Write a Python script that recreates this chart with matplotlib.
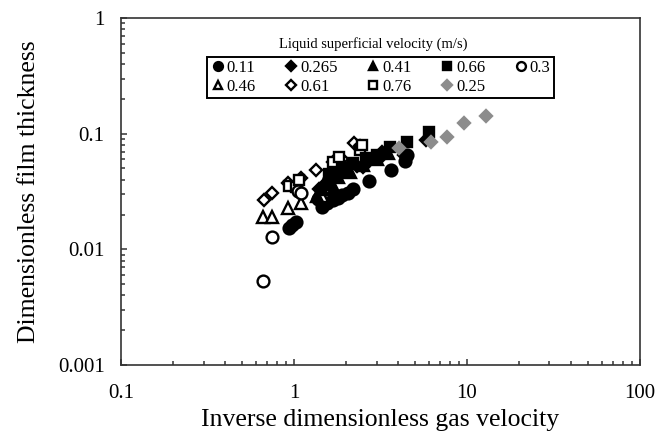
import matplotlib
matplotlib.use("Agg")
import matplotlib.pyplot as plt
from matplotlib.ticker import FuncFormatter, LogLocator

plt.rcParams["font.family"] = ["Liberation Serif", "DejaVu Serif"]

# liquid superficial velocity series (m/s): x = inverse dimensionless gas velocity,
# y = dimensionless film thickness
x_011 = [0.93, 0.97, 1.02, 1.38, 1.45, 1.55, 1.67, 1.8, 1.9, 2.05, 2.18, 2.72, 3.62, 4.4, 4.5]
y_011 = [0.0152, 0.0162, 0.0172, 0.027, 0.0234, 0.0252, 0.0267, 0.028, 0.0295, 0.031, 0.033,
         0.0393, 0.0486, 0.058, 0.066]
x_0265 = [1.4, 1.5, 1.62, 1.75, 1.9, 2.05, 2.3, 2.5, 2.7, 3.2, 3.23, 4.3, 5.8]
y_0265 = [0.033, 0.037, 0.041, 0.044, 0.047, 0.05, 0.053, 0.052, 0.058, 0.063, 0.07, 0.066, 0.088]
x_041 = [1.35, 1.45, 1.52, 1.6, 1.7, 1.8, 2.1, 2.5, 3.0, 3.5]
y_041 = [0.029, 0.033, 0.04, 0.037, 0.034, 0.042, 0.047, 0.054, 0.060, 0.068]
x_066 = [1.6, 1.75, 1.9, 2.2, 2.6, 2.8, 3.0, 3.6, 4.5, 6.0]
y_066 = [0.045, 0.046, 0.05, 0.056, 0.062, 0.06, 0.066, 0.077, 0.085, 0.104]
x_03 = [0.66, 0.74, 1.05, 1.1]
y_03 = [0.0053, 0.0127, 0.032, 0.0305]
x_046 = [0.66, 0.74, 0.92, 1.1, 1.45]
y_046 = [0.0192, 0.0192, 0.0226, 0.0251, 0.029]
x_061 = [0.67, 0.74, 0.92, 1.1, 1.34, 1.67, 1.9, 2.22, 2.4]
y_061 = [0.0267, 0.0305, 0.0373, 0.041, 0.0486, 0.0573, 0.06, 0.0826, 0.079]
x_076 = [0.94, 1.03, 1.07, 1.67, 1.82, 2.4, 2.48]
y_076 = [0.035, 0.0348, 0.04, 0.057, 0.0633, 0.072, 0.0798]
x_025 = [4.05, 6.17, 7.7, 9.6, 12.8]
y_025 = [0.0748, 0.085, 0.094, 0.123, 0.142]

fig = plt.figure(figsize=(6.7, 4.4), dpi=100)
ax = fig.add_axes([0.181, 0.1705, 0.774, 0.7885])

k = dict(linestyle="none", markeredgewidth=1.7)
ax.plot(x_011, y_011, "o", color="black", ms=8.5, label="0.11", **k)
ax.plot(x_046, y_046, "^", mfc="white", mec="black", ms=8.5, label="0.46", **k)
ax.plot(x_0265, y_0265, "D", color="black", ms=6.5, label="0.265", **k)
ax.plot(x_061, y_061, "D", mfc="white", mec="black", ms=6.5, label="0.61", **k)
ax.plot(x_041, y_041, "^", color="black", ms=8.5, label="0.41", **k)
ax.plot(x_076, y_076, "s", mfc="white", mec="black", ms=7.5, label="0.76", **k)
ax.plot(x_066, y_066, "s", color="black", ms=7.5, label="0.66", **k)
ax.plot(x_025, y_025, "D", color="#8c8c8c", ms=6.5, label="0.25", **k)
ax.plot(x_03, y_03, "o", mfc="white", mec="black", ms=8.5, label="0.3", **k)

ax.set_xscale("log")
ax.set_yscale("log")
ax.set_xlim(0.1, 100)
ax.set_ylim(0.001, 1)
fmt = FuncFormatter(lambda v, p: f"{v:g}")
ax.xaxis.set_major_formatter(fmt)
ax.yaxis.set_major_formatter(fmt)
for a in (ax.xaxis, ax.yaxis):
    a.set_major_locator(LogLocator(base=10))
    a.set_minor_locator(LogLocator(base=10, subs=range(2, 10)))
ax.tick_params(which="both", direction="in", top=False, right=False,
               labelsize=15, color="#333333")
ax.tick_params(which="major", length=4, width=1.1)
ax.tick_params(which="minor", length=3, width=1.1)
ax.tick_params(axis="x", which="major", pad=14)
ax.tick_params(axis="y", which="major", pad=12)
for s in ax.spines.values():
    s.set_linewidth(1.2)
    s.set_color("#333333")

ax.set_xlabel("Inverse dimensionless gas velocity", fontsize=18.5, labelpad=4)
ax.set_ylabel("Dimensionless film thickness", fontsize=18.5, labelpad=13)

leg = ax.legend(ncol=5, loc="upper left", bbox_to_anchor=(0.165, 0.764, 0.669, 0.124),
                mode="expand", fontsize=12, fancybox=False, edgecolor="black",
                handletextpad=0.1, handlelength=0.9, borderpad=0.2, labelspacing=0.15,
                columnspacing=0.8, framealpha=1, markerscale=0.75, borderaxespad=0)
leg.get_frame().set_linewidth(1.4)
ax.text(0.485, 0.925, "Liquid superficial velocity (m/s)", transform=ax.transAxes,
        ha="center", va="center", fontsize=10.5)

fig.savefig("out.png", dpi=100)
